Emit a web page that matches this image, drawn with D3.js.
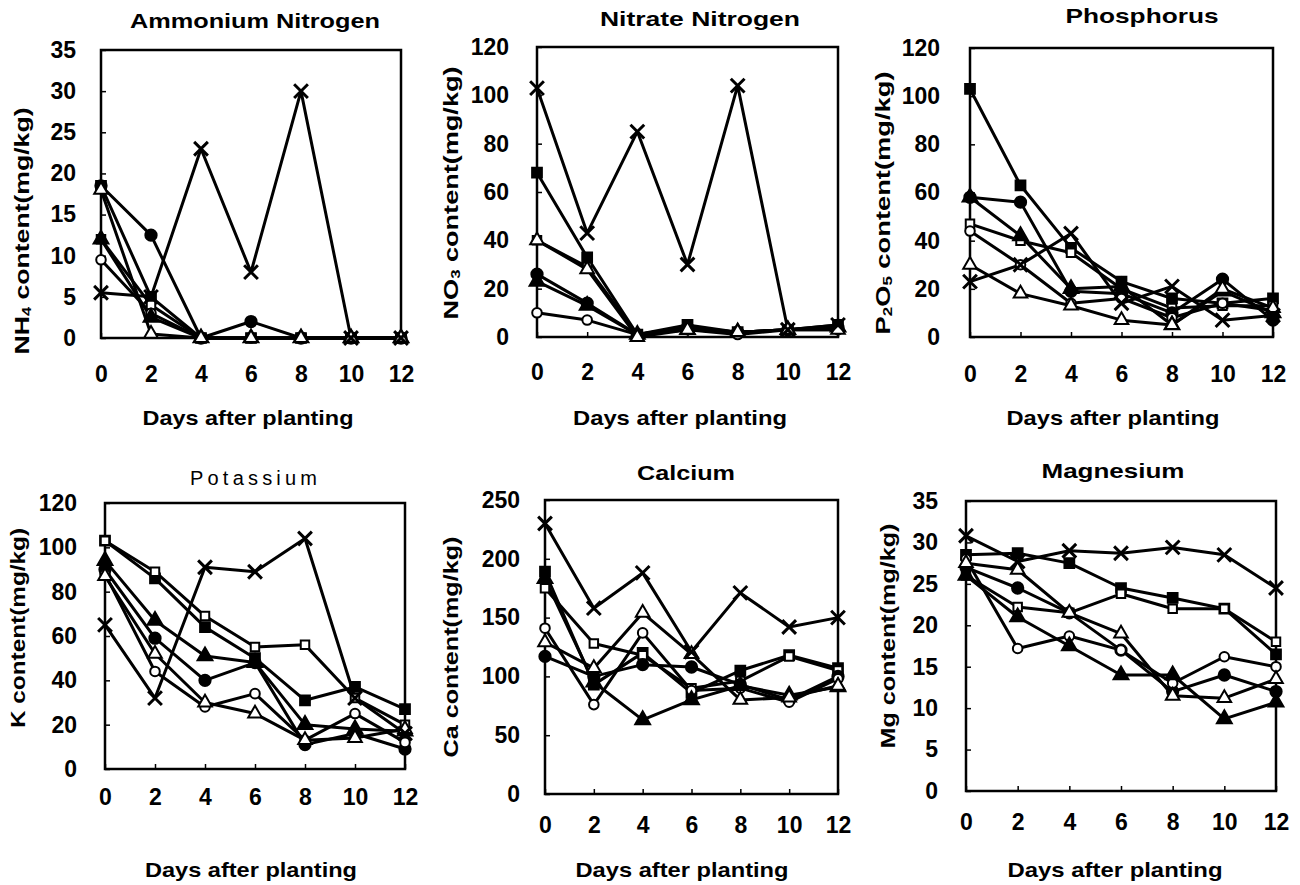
<!DOCTYPE html>
<html><head><meta charset="utf-8">
<script src="https://cdn.jsdelivr.net/npm/d3@7"></script>
<style>body{margin:0;background:#fff;} svg{display:block;font-family:"Liberation Sans",Arial,sans-serif;}</style>
</head><body>
<svg id="c" width="1300" height="885"></svg>
<script>
// ---------------- DATA ----------------
const days = [0, 2, 4, 6, 8, 10, 12];
const seriesKeys = ["T1", "T2", "T3", "T4", "T5", "T6", "T7"];
const titles = ["Ammonium Nitrogen", "Nitrate Nitrogen", "Phosphorus", "Potassium", "Calcium", "Magnesium"];
const xTitle = "Days after planting";
const yLabelParts = [
  [["NH", 0], ["4", 1], [" content(mg/kg)", 0]],
  [["NO", 0], ["3", 1], [" content(mg/kg)", 0]],
  [["P", 0], ["2", 1], ["O", 0], ["5", 1], [" content(mg/kg)", 0]],
  [["K content(mg/kg)", 0]],
  [["Ca content(mg/kg)", 0]],
  [["Mg content(mg/kg)", 0]]
];
const yMax = [35, 120, 120, 120, 250, 35];
const yTicks = [
  [0, 5, 10, 15, 20, 25, 30, 35],
  [0, 20, 40, 60, 80, 100, 120],
  [0, 20, 40, 60, 80, 100, 120],
  [0, 20, 40, 60, 80, 100, 120],
  [0, 50, 100, 150, 200, 250],
  [0, 5, 10, 15, 20, 25, 30, 35]
];
const xTicks = [0, 2, 4, 6, 8, 10, 12];

// series order: T1..T7
const ammonium = [
  [18.5, 5, 0, 0, 0, 0, 0],
  [12, 4, 0, 0, 0, 0, 0],
  [18.5, 12.5, 0, 2, 0, 0, 0],
  [9.5, 3, 0, 0, 0, 0, 0],
  [12, 2.5, 0, 0, 0, 0, 0],
  [18, 0.5, 0, 0, 0, 0, 0],
  [5.5, 5, 23, 8, 30, 0, 0]
];
const nitrate = [
  [68, 33, 1, 5, 2, 3, 5],
  [40, 29, 1, 4, 2, 3, 4],
  [26, 14, 1, 4, 2, 3, 4],
  [10, 7, 1, 3, 1, 3, 3],
  [23, 13, 1, 3, 2, 3, 4],
  [40, 28, 0, 3, 2, 3, 3],
  [103, 43, 85, 30, 104, 3, 5]
];
const phosphorus = [
  [103, 63, 37, 23, 16, 14, 16],
  [47, 40, 35, 20, 12, 13, 13],
  [58, 56, 19, 18, 10, 24, 7],
  [44, 30, 14, 16, 8, 14, 11],
  [58, 42, 20, 21, 5, 19, 10],
  [30, 18, 13, 7, 5, 20, 12],
  [23, 30, 43, 14, 21, 7, 9]
];
const potassium = [
  [103, 86, 64, 50, 31, 37, 27],
  [103, 89, 69, 55, 56, 32, 20],
  [90, 59, 40, 48, 11, 16, 9],
  [88, 44, 28, 34, 13, 25, 12],
  [94, 67, 51, 48, 20, 18, 17],
  [87, 52, 30, 25, 13, 14, 18],
  [65, 32, 91, 89, 104, 32, 16]
];
const calcium = [
  [189, 93, 120, 86, 105, 118, 107],
  [175, 128, 118, 90, 96, 117, 105],
  [117, 100, 110, 108, 93, 80, 100],
  [141, 76, 137, 88, 90, 78, 98],
  [183, 95, 63, 80, 92, 84, 91],
  [129, 107, 154, 119, 80, 82, 92],
  [230, 158, 188, 121, 171, 142, 150]
];
const magnesium = [
  [28.5, 28.7, 27.5, 24.5, 23.3, 22, 16.5],
  [26, 22.2, 21.5, 23.8, 22, 22, 18],
  [27, 24.5, 21.5, 17, 12, 14, 12],
  [28, 17.2, 18.7, 17, 13, 16.2, 15],
  [26, 21, 17.5, 14, 14, 8.7, 10.7],
  [27.5, 26.7, 21.5, 19, 11.5, 11.2, 13.5],
  [30.8, 27.7, 29, 28.7, 29.4, 28.5, 24.5]
];
const panelData = [ammonium, nitrate, phosphorus, potassium, calcium, magnesium];

// ---------------- LAYOUT / STYLE ----------------
const layout = [
  {l:101,r:401,t:50,b:338, tx:255,ty:28,tw:250,bold:true, ytr:76, xtb:382, xtx:248,xty:425,xtw:211, ylx:21,yly:231,ylw:247},
  {l:537,r:838,t:47,b:337, tx:700,ty:26,tw:200,bold:true, ytr:509, xtb:380, xtx:680,xty:425,xtw:214, ylx:450,yly:193,ylw:253},
  {l:970,r:1273,t:48,b:337, tx:1142,ty:23,tw:153,bold:true, ytr:940, xtb:382, xtx:1113,xty:425,xtw:213, ylx:882,yly:203,ylw:263},
  {l:105,r:405,t:503,b:769, tx:255,ty:485,tw:130,bold:false, ytr:77, xtb:805, xtx:251,xty:877,xtw:212, ylx:17,yly:628,ylw:200},
  {l:545,r:838,t:500,b:794, tx:686,ty:480,tw:98,bold:true, ytr:520, xtb:833, xtx:682,xty:877,xtw:213, ylx:450,yly:647,ylw:221},
  {l:966,r:1276,t:501,b:791, tx:1113,ty:478,tw:143,bold:true, ytr:938, xtb:830, xtx:1115,xty:877,xtw:215, ylx:887,yly:636,ylw:225}
];
const markerStyle = {
  T1: {type: d3.symbolSquare, fill: "#000", size: 95},
  T2: {type: d3.symbolSquare, fill: "#fff", size: 72},
  T3: {type: d3.symbolCircle, fill: "#000", size: 100},
  T4: {type: d3.symbolCircle, fill: "#fff", size: 72},
  T5: {type: d3.symbolTriangle, fill: "#000", size: 95},
  T6: {type: d3.symbolTriangle, fill: "#fff", size: 80},
  T7: {type: d3.symbolTimes, fill: "none", size: 125}
};

const svg = d3.select("#c");
svg.append("rect").attr("width", 1300).attr("height", 885).attr("fill", "#fff");

layout.forEach((L, i) => {
  const g = svg.append("g");
  const x = d3.scaleLinear().domain([0, 12]).range([L.l, L.r]);
  const y = d3.scaleLinear().domain([0, yMax[i]]).range([L.b, L.t]);

  // y axis
  const ya = g.append("g").attr("transform", `translate(${L.l},0)`)
    .call(d3.axisLeft(y).tickValues(yTicks[i]).tickSizeInner(-5).tickSizeOuter(0).tickPadding(L.l - L.ytr));
  ya.select(".domain").remove();
  ya.selectAll("line").attr("stroke", "#000").attr("stroke-width", 1.5);
  ya.selectAll("text").attr("font-size", 23).attr("font-weight", "bold").attr("fill", "#000")
    .attr("font-family", '"Liberation Sans",Arial,sans-serif');

  // x axis
  const xa = g.append("g").attr("transform", `translate(0,${L.b})`)
    .call(d3.axisBottom(x).tickValues(xTicks).tickSizeInner(-5).tickSizeOuter(0));
  xa.select(".domain").remove();
  xa.selectAll("line").attr("stroke", "#000").attr("stroke-width", 1.5);
  xa.selectAll("text").attr("font-size", 23).attr("font-weight", "bold").attr("fill", "#000")
    .attr("font-family", '"Liberation Sans",Arial,sans-serif')
    .attr("dy", null).attr("y", L.xtb - L.b);

  // frame
  g.append("rect").attr("x", L.l).attr("y", L.t).attr("width", L.r - L.l).attr("height", L.b - L.t)
    .attr("fill", "none").attr("stroke", "#000").attr("stroke-width", 2.5);

  // title
  const tt = g.append("text").attr("x", L.tx).attr("y", L.ty).attr("text-anchor", "middle")
    .attr("font-size", L.bold ? 21 : 20).attr("font-weight", L.bold ? "bold" : "normal")
    .attr("letter-spacing", L.bold ? 0 : 3)
    .attr("textLength", L.tw).attr("lengthAdjust", L.bold ? "spacingAndGlyphs" : "spacing").text(titles[i]);

  // x title
  g.append("text").attr("x", L.xtx).attr("y", L.xty).attr("text-anchor", "middle")
    .attr("font-size", 21).attr("font-weight", "bold")
    .attr("textLength", L.xtw).attr("lengthAdjust", "spacingAndGlyphs").text(xTitle);

  // y title
  const yt = g.append("text").attr("transform", `translate(${L.ylx},${L.yly}) rotate(-90)`)
    .attr("text-anchor", "middle").attr("dy", "0.36em")
    .attr("font-size", 21).attr("font-weight", "bold")
    .attr("textLength", L.ylw).attr("lengthAdjust", "spacingAndGlyphs");
  let sub = false;
  yLabelParts[i].forEach(([txt, isSub]) => {
    const ts = yt.append("tspan").text(txt);
    if (isSub && !sub) { ts.attr("font-size", 13).attr("dy", 2); sub = true; }
    else if (!isSub && sub) { ts.attr("dy", -2); sub = false; }
    else if (isSub) ts.attr("font-size", 13);
  });

  // series
  const data = panelData[i];
  const line = d3.line().x((d, j) => x(days[j])).y(d => y(d));
  seriesKeys.forEach((k, s) => {
    g.append("path").datum(data[s]).attr("d", line)
      .attr("fill", "none").attr("stroke", "#000").attr("stroke-width", 3).attr("stroke-linejoin", "round");
  });
  seriesKeys.forEach((k, s) => {
    const st = markerStyle[k];
    g.selectAll(null).data(data[s]).join("path")
      .attr("transform", (d, j) => `translate(${x(days[j])},${y(d)})`)
      .attr("d", d3.symbol().type(st.type).size(st.size))
      .attr("fill", st.fill).attr("stroke", "#000")
      .attr("stroke-width", k === "T7" ? 3 : 2);
  });
});
</script>
</body></html>
